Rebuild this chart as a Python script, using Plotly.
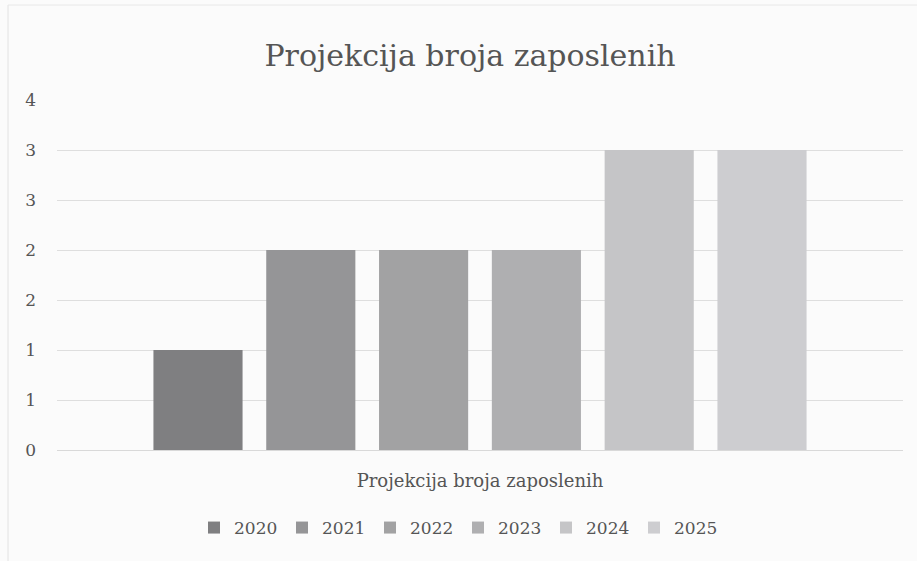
import plotly.graph_objects as go

category = ["Projekcija broja zaposlenih"]
years = ["2020", "2021", "2022", "2023", "2024", "2025"]
values = [1, 2, 2, 2, 3, 3]
colors = ["#7f7f81", "#959597", "#a2a2a3", "#afafb1", "#c5c5c7", "#cdcdd0"]
tick_vals = [0, 0.5, 1, 1.5, 2, 2.5, 3, 3.5]
tick_text = ["0", "1", "1", "2", "2", "3", "3", "4"]

font_family = "DejaVu Serif, Liberation Serif, serif"

fig = go.Figure()
for yr, v, c in zip(years, values, colors):
    fig.add_trace(go.Bar(x=category, y=[v], name=yr, marker=dict(color=c, line=dict(width=0))))

fig.update_layout(
    width=917, height=561,
    paper_bgcolor="#fbfbfb", plot_bgcolor="#fbfbfb",
    barmode="group", bargap=0.2, bargroupgap=0.21,
    margin=dict(l=57, r=14, t=100, b=111),
    title=dict(text="Projekcija broja zaposlenih", xref="paper", x=(470 - 57) / 846, xanchor="center",
               y=1 - 55 / 561, yanchor="middle", font=dict(family=font_family, size=30, color="#555555")),
    legend=dict(orientation="h", x=(458 - 57) / 846, xanchor="center", y=-78 / 350, yanchor="middle",
                font=dict(family=font_family, size=17, color="#555555"), traceorder="normal",
                itemwidth=30, entrywidth=43, entrywidthmode="pixels", bgcolor="rgba(0,0,0,0)"),
    font=dict(family=font_family, color="#555555"),
    shapes=[
        dict(type="line", xref="paper", yref="paper", x0=-49 / 846, x1=-49 / 846,
             y0=-120 / 350, y1=445 / 350, line=dict(color="#e2e2e2", width=1)),
        dict(type="line", xref="paper", yref="paper", x0=-49 / 846, x1=870 / 846,
             y0=445 / 350, y1=445 / 350, line=dict(color="#e8e8e8", width=1)),
    ],
)
fig.update_xaxes(showgrid=False, showline=True, linecolor="#d9d9d9", linewidth=1,
                 ticks="", ticklabelstandoff=14, tickfont=dict(size=18, color="#555555"))
fig.update_yaxes(range=[0, 3.5], tickvals=tick_vals, ticktext=tick_text,
                 showgrid=True, gridcolor="#dedede", gridwidth=1, zeroline=False,
                 showline=False, ticks="", ticklabelstandoff=20,
                 tickfont=dict(size=17, color="#555555"))

fig.write_html("out.html", config={"displayModeBar": False},
               post_script="document.body.style.margin='0';")
